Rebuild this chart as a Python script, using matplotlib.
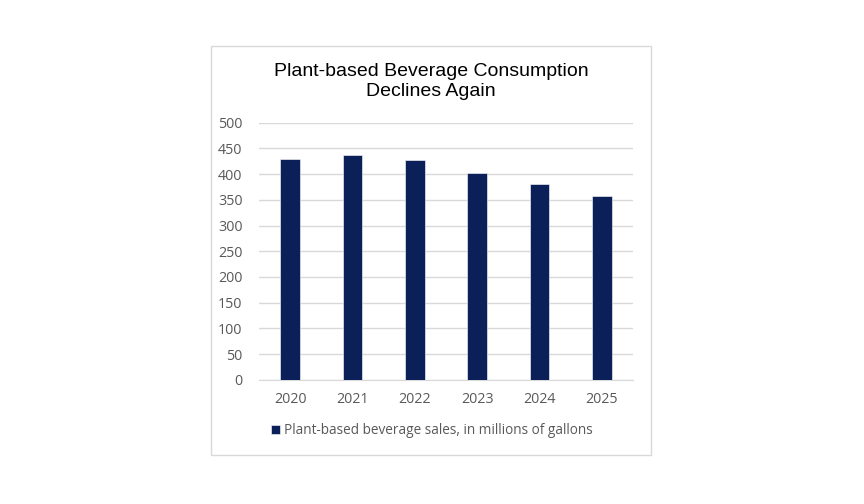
import numpy as np
import matplotlib.pyplot as plt
from matplotlib.patches import Rectangle

years = ['2020', '2021', '2022', '2023', '2024', '2025']
sales = [430, 438, 428, 403, 381, 358]
series_label = 'Plant-based beverage sales, in millions of gallons'
title = 'Plant-based Beverage Consumption\nDeclines Again'

bar_color = '#0b2059'
text_gray = '#595959'
grid_gray = '#d9d9d9'

fig = plt.figure(figsize=(8.64, 5.04), dpi=100)

# chart frame
frame = Rectangle((0.2442, 0.0972), 0.5093, 0.8125,
                  transform=fig.transFigure, facecolor='white',
                  edgecolor=grid_gray, linewidth=1, zorder=-5)
fig.patches.append(frame)

ax = fig.add_axes([0.2998, 0.2466, 0.4328, 0.5099])
ax.set_zorder(2)
x = np.arange(len(years))
ax.bar(x, sales, width=0.32, color=bar_color, edgecolor='white',
       linewidth=0.4, label=series_label, zorder=3)

ax.set_xlim(-0.5, len(years) - 0.5)
ax.set_ylim(0, 500)
ax.set_yticks(np.arange(0, 501, 50))
ax.set_xticks(x)
ax.set_xticklabels(years)
ax.yaxis.grid(True, color=grid_gray, linewidth=1)
ax.set_axisbelow(True)
for s in ['top', 'right', 'left']:
    ax.spines[s].set_visible(False)
ax.spines['bottom'].set_color(grid_gray)
ax.tick_params(axis='both', length=0, colors=text_gray, labelsize=10.3)
ax.tick_params(axis='x', pad=9)
ax.tick_params(axis='y', pad=12)
for lbl in ax.get_xticklabels() + ax.get_yticklabels():
    lbl.set_fontfamily('Open Sans')
ax.patch.set_alpha(0)

fig.text(0.4988, 0.8375, title, ha='center', va='center', fontsize=14,
         family='Liberation Sans', color='black', linespacing=1.22)

leg = fig.legend(loc='center', bbox_to_anchor=(0.4999, 0.145), frameon=False,
                 handlelength=0.7, handleheight=0.7, handletextpad=0.3,
                 prop={'family': 'Open Sans', 'size': 9.8})
for t in leg.get_texts():
    t.set_color(text_gray)

fig.savefig('out.png', dpi=100)
